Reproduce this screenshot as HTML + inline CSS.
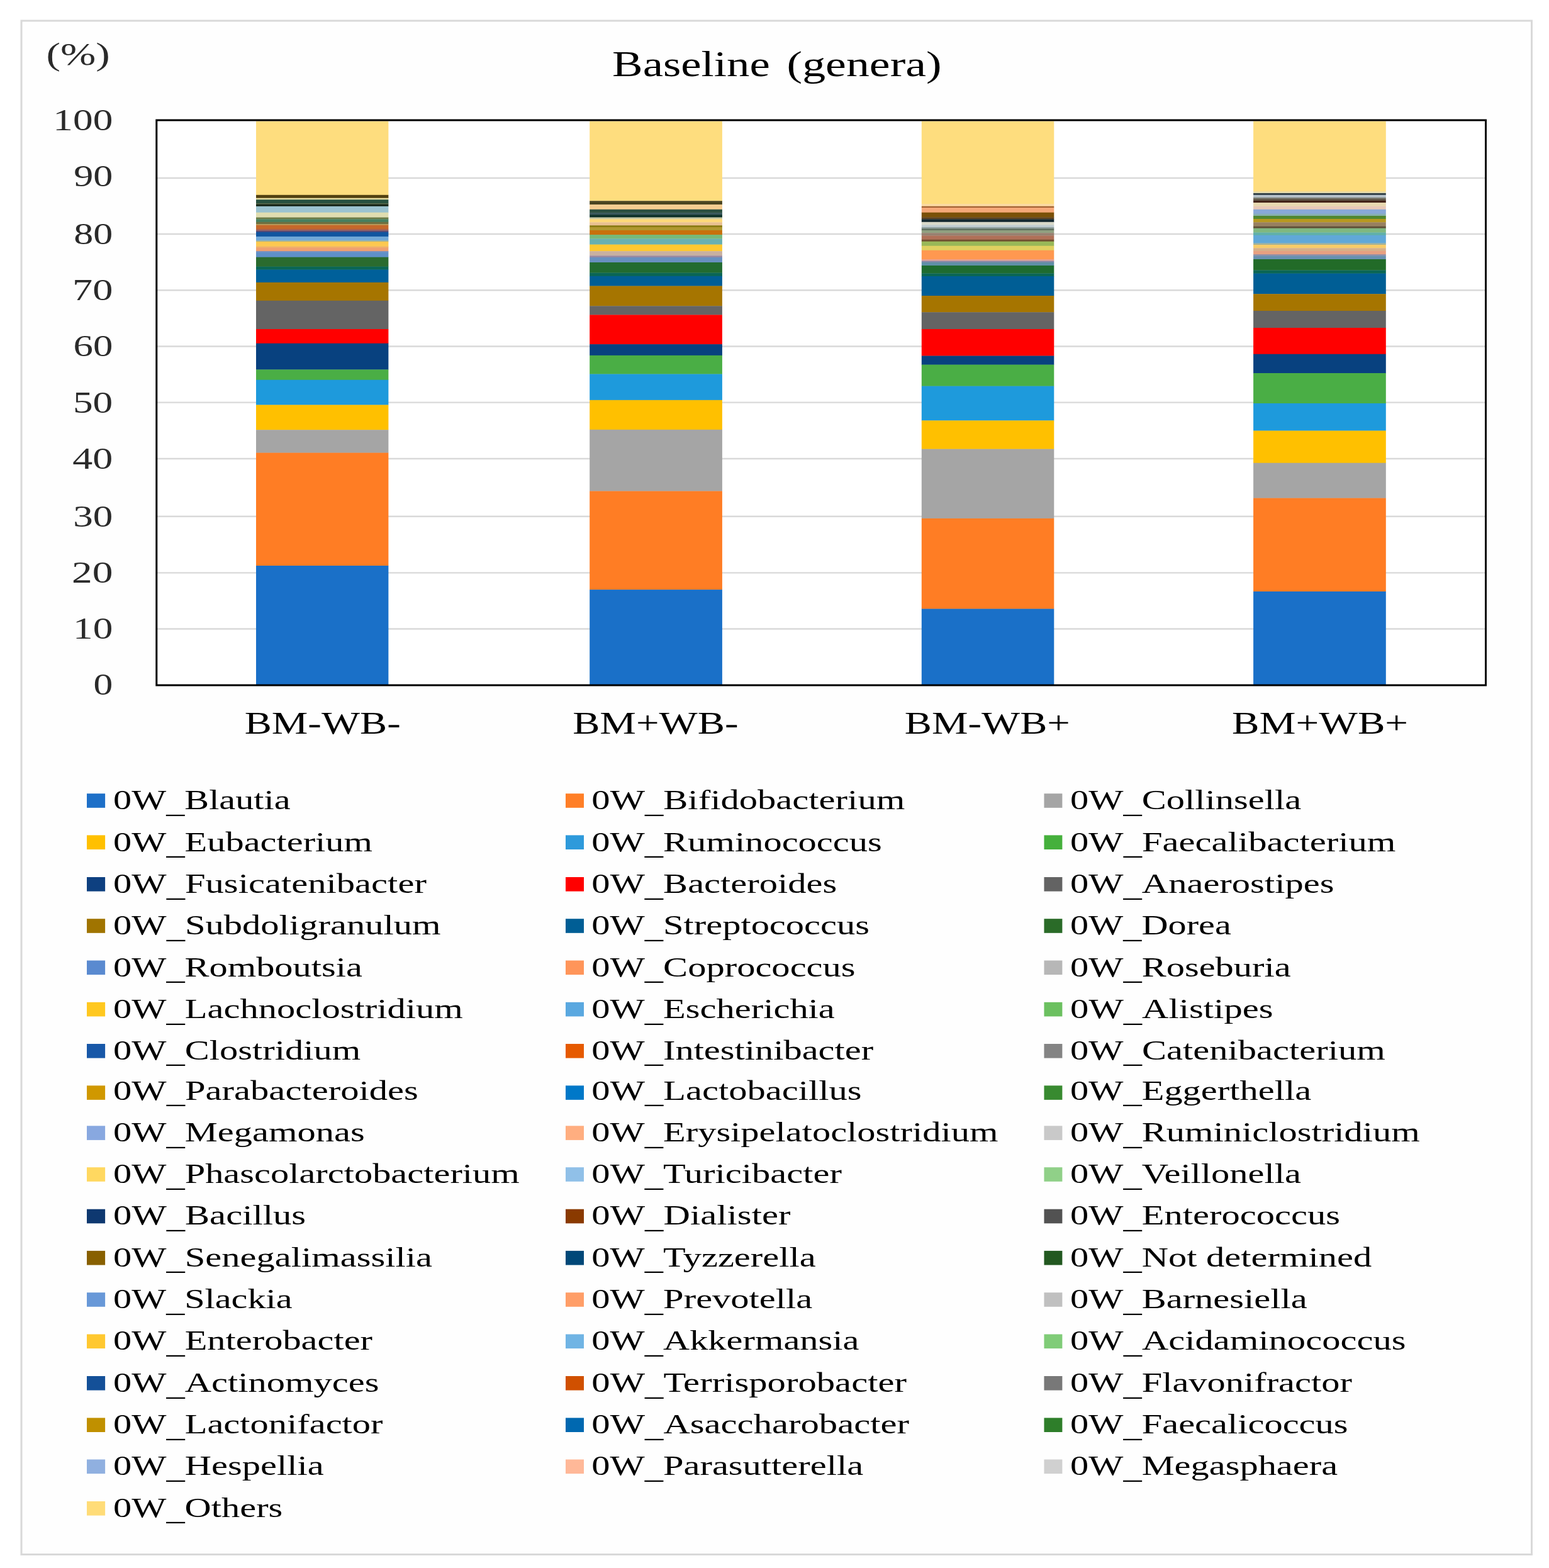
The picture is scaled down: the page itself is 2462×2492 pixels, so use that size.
<!DOCTYPE html>
<html lang="en"><head><meta charset="utf-8"><title>Baseline (genera)</title>
<style>html,body{margin:0;padding:0;background:#fff}body{width:2462px;height:2492px;overflow:hidden}svg{display:block}text{font-family:"Liberation Serif","DejaVu Serif",serif;fill:#000;white-space:pre}.lg text,.md{stroke:none}.tk{fill:#2a2a2a}</style>
</head><body>
<svg width="2462" height="2492" viewBox="0 0 2462 2492">
<rect x="0" y="0" width="2462" height="2492" fill="#ffffff"/>
<defs>
<filter id="softb" x="0" y="0" width="2462" height="2492" filterUnits="userSpaceOnUse" color-interpolation-filters="sRGB"><feGaussianBlur stdDeviation="0.7 0.75"/></filter>
<filter id="softt" x="0" y="0" width="2462" height="2492" filterUnits="userSpaceOnUse" color-interpolation-filters="sRGB"><feGaussianBlur stdDeviation="0.5"/></filter>
</defs>
<rect x="34" y="33" width="2400.5" height="2437.5" fill="#fefefe" stroke="#d9d9d9" stroke-width="3"/>
<rect x="248.8" y="191.0" width="2112.7" height="898.0" fill="#ffffff"/>
<g stroke="#d9d9d9" stroke-width="2.4">
<line x1="248.8" y1="283.0" x2="2361.5" y2="283.0"/>
<line x1="248.8" y1="372.0" x2="2361.5" y2="372.0"/>
<line x1="248.8" y1="461.3" x2="2361.5" y2="461.3"/>
<line x1="248.8" y1="550.5" x2="2361.5" y2="550.5"/>
<line x1="248.8" y1="639.6" x2="2361.5" y2="639.6"/>
<line x1="248.8" y1="729.0" x2="2361.5" y2="729.0"/>
<line x1="248.8" y1="820.8" x2="2361.5" y2="820.8"/>
<line x1="248.8" y1="910.4" x2="2361.5" y2="910.4"/>
<line x1="248.8" y1="999.5" x2="2361.5" y2="999.5"/>
</g>
<g filter="url(#softb)">
<g>
<rect x="407.0" y="192.5" width="210.4" height="117.6" fill="#FEDD7E"/>
<rect x="407.0" y="309.8" width="210.4" height="5.2" fill="#524010"/>
<rect x="407.0" y="314.7" width="210.4" height="2.8" fill="#E8DDA0"/>
<rect x="407.0" y="317.2" width="210.4" height="6.0" fill="#27513F"/>
<rect x="407.0" y="322.9" width="210.4" height="2.0" fill="#56684A"/>
<rect x="407.0" y="324.6" width="210.4" height="3.5" fill="#142414"/>
<rect x="407.0" y="327.8" width="210.4" height="10.2" fill="#9BC3D0"/>
<rect x="407.0" y="337.7" width="210.4" height="8.1" fill="#E0DDB0"/>
<rect x="407.0" y="345.5" width="210.4" height="3.1" fill="#6B7B45"/>
<rect x="407.0" y="348.3" width="210.4" height="4.8" fill="#468060"/>
<rect x="407.0" y="352.8" width="210.4" height="3.5" fill="#6E7040"/>
<rect x="407.0" y="356.0" width="210.4" height="2.2" fill="#B89A5A"/>
<rect x="407.0" y="357.9" width="210.4" height="6.3" fill="#C6682A"/>
<rect x="407.0" y="363.9" width="210.4" height="2.8" fill="#A86050"/>
<rect x="407.0" y="366.4" width="210.4" height="2.7" fill="#5A4870"/>
<rect x="407.0" y="368.8" width="210.4" height="7.4" fill="#1055A0"/>
<rect x="407.0" y="375.9" width="210.4" height="6.7" fill="#70A8D8"/>
<rect x="407.0" y="382.3" width="210.4" height="2.0" fill="#A0B090"/>
<rect x="407.0" y="384.0" width="210.4" height="7.8" fill="#FDC850"/>
<rect x="407.0" y="391.5" width="210.4" height="2.4" fill="#F0B060"/>
<rect x="407.0" y="393.6" width="210.4" height="5.7" fill="#F0A070"/>
<rect x="407.0" y="399.0" width="210.4" height="1.9" fill="#8090B8"/>
<rect x="407.0" y="400.6" width="210.4" height="8.4" fill="#6090C8"/>
<rect x="407.0" y="408.7" width="210.4" height="15.2" fill="#2A6B2E"/>
<rect x="407.0" y="423.6" width="210.4" height="5.3" fill="#0A6654"/>
<rect x="407.0" y="428.6" width="210.4" height="20.5" fill="#00609A"/>
<rect x="407.0" y="448.8" width="210.4" height="29.3" fill="#A67500"/>
<rect x="407.0" y="477.8" width="210.4" height="45.5" fill="#646464"/>
<rect x="407.0" y="523.0" width="210.4" height="23.0" fill="#FF0000"/>
<rect x="407.0" y="545.7" width="210.4" height="42.0" fill="#08417F"/>
<rect x="407.0" y="587.4" width="210.4" height="16.6" fill="#4AAE45"/>
<rect x="407.0" y="603.7" width="210.4" height="40.1" fill="#1E9ADC"/>
<rect x="407.0" y="643.5" width="210.4" height="40.0" fill="#FFC000"/>
<rect x="407.0" y="683.2" width="210.4" height="36.7" fill="#A5A5A5"/>
<rect x="407.0" y="719.6" width="210.4" height="179.7" fill="#FF7D24"/>
<rect x="407.0" y="899.0" width="210.4" height="189.3" fill="#1A70C8"/>
</g>
<g>
<rect x="937.2" y="192.5" width="210.7" height="127.1" fill="#FEDD7E"/>
<rect x="937.2" y="319.3" width="210.7" height="6.0" fill="#4A4420"/>
<rect x="937.2" y="325.0" width="210.7" height="8.1" fill="#F5CC90"/>
<rect x="937.2" y="332.8" width="210.7" height="5.9" fill="#2C5040"/>
<rect x="937.2" y="338.4" width="210.7" height="3.1" fill="#35545A"/>
<rect x="937.2" y="341.2" width="210.7" height="4.6" fill="#0C3028"/>
<rect x="937.2" y="345.5" width="210.7" height="3.1" fill="#C8C8A0"/>
<rect x="937.2" y="348.3" width="210.7" height="5.3" fill="#FDD878"/>
<rect x="937.2" y="353.3" width="210.7" height="5.2" fill="#E8C090"/>
<rect x="937.2" y="358.2" width="210.7" height="3.1" fill="#8A7A10"/>
<rect x="937.2" y="361.0" width="210.7" height="5.3" fill="#B09830"/>
<rect x="937.2" y="366.0" width="210.7" height="7.3" fill="#C8700C"/>
<rect x="937.2" y="373.0" width="210.7" height="6.7" fill="#78B878"/>
<rect x="937.2" y="379.4" width="210.7" height="9.5" fill="#68B0B0"/>
<rect x="937.2" y="388.6" width="210.7" height="10.9" fill="#FDC830"/>
<rect x="937.2" y="399.2" width="210.7" height="7.4" fill="#C8B0A0"/>
<rect x="937.2" y="406.3" width="210.7" height="3.0" fill="#9888A0"/>
<rect x="937.2" y="409.0" width="210.7" height="8.3" fill="#6890C0"/>
<rect x="937.2" y="417.0" width="210.7" height="16.8" fill="#226B30"/>
<rect x="937.2" y="433.5" width="210.7" height="5.6" fill="#0A6654"/>
<rect x="937.2" y="438.8" width="210.7" height="16.0" fill="#005E95"/>
<rect x="937.2" y="454.5" width="210.7" height="32.1" fill="#A67500"/>
<rect x="937.2" y="486.3" width="210.7" height="14.4" fill="#646464"/>
<rect x="937.2" y="500.4" width="210.7" height="47.0" fill="#FF0000"/>
<rect x="937.2" y="547.1" width="210.7" height="18.0" fill="#08417F"/>
<rect x="937.2" y="564.8" width="210.7" height="30.0" fill="#4AAE45"/>
<rect x="937.2" y="594.5" width="210.7" height="41.6" fill="#1E9ADC"/>
<rect x="937.2" y="635.8" width="210.7" height="47.3" fill="#FFC000"/>
<rect x="937.2" y="682.8" width="210.7" height="98.0" fill="#A5A5A5"/>
<rect x="937.2" y="780.5" width="210.7" height="156.9" fill="#FF7D24"/>
<rect x="937.2" y="937.1" width="210.7" height="151.2" fill="#1A70C8"/>
</g>
<g>
<rect x="1464.8" y="192.5" width="210.5" height="132.1" fill="#FEDD7E"/>
<rect x="1464.8" y="324.3" width="210.5" height="3.8" fill="#FAD8A0"/>
<rect x="1464.8" y="327.8" width="210.5" height="2.5" fill="#A06030"/>
<rect x="1464.8" y="330.0" width="210.5" height="8.0" fill="#F5A878"/>
<rect x="1464.8" y="337.7" width="210.5" height="8.1" fill="#7A5008"/>
<rect x="1464.8" y="345.5" width="210.5" height="3.1" fill="#5A4020"/>
<rect x="1464.8" y="348.3" width="210.5" height="4.8" fill="#152830"/>
<rect x="1464.8" y="352.8" width="210.5" height="5.0" fill="#D8D8C8"/>
<rect x="1464.8" y="357.5" width="210.5" height="3.8" fill="#C0CCD0"/>
<rect x="1464.8" y="361.0" width="210.5" height="2.5" fill="#90A0A0"/>
<rect x="1464.8" y="363.2" width="210.5" height="3.1" fill="#607060"/>
<rect x="1464.8" y="366.0" width="210.5" height="4.5" fill="#90A080"/>
<rect x="1464.8" y="370.2" width="210.5" height="4.6" fill="#988070"/>
<rect x="1464.8" y="374.5" width="210.5" height="6.6" fill="#B07058"/>
<rect x="1464.8" y="380.8" width="210.5" height="3.2" fill="#705030"/>
<rect x="1464.8" y="383.7" width="210.5" height="7.3" fill="#98B858"/>
<rect x="1464.8" y="390.7" width="210.5" height="7.4" fill="#E0D060"/>
<rect x="1464.8" y="397.8" width="210.5" height="14.5" fill="#FF9850"/>
<rect x="1464.8" y="412.0" width="210.5" height="2.8" fill="#E8A090"/>
<rect x="1464.8" y="414.5" width="210.5" height="2.7" fill="#8888A8"/>
<rect x="1464.8" y="416.9" width="210.5" height="5.4" fill="#6090A8"/>
<rect x="1464.8" y="422.0" width="210.5" height="12.7" fill="#1E6B30"/>
<rect x="1464.8" y="434.4" width="210.5" height="4.9" fill="#0A6654"/>
<rect x="1464.8" y="439.0" width="210.5" height="31.3" fill="#005E95"/>
<rect x="1464.8" y="470.0" width="210.5" height="26.5" fill="#A67500"/>
<rect x="1464.8" y="496.2" width="210.5" height="27.1" fill="#646464"/>
<rect x="1464.8" y="523.0" width="210.5" height="42.8" fill="#FF0000"/>
<rect x="1464.8" y="565.5" width="210.5" height="14.4" fill="#08417F"/>
<rect x="1464.8" y="579.6" width="210.5" height="34.3" fill="#4AAE45"/>
<rect x="1464.8" y="613.6" width="210.5" height="55.0" fill="#1E9ADC"/>
<rect x="1464.8" y="668.3" width="210.5" height="45.6" fill="#FFC000"/>
<rect x="1464.8" y="713.6" width="210.5" height="110.6" fill="#A5A5A5"/>
<rect x="1464.8" y="823.9" width="210.5" height="144.0" fill="#FF7D24"/>
<rect x="1464.8" y="967.6" width="210.5" height="120.7" fill="#1A70C8"/>
</g>
<g>
<rect x="1992.1" y="192.5" width="210.7" height="112.3" fill="#FEDD7E"/>
<rect x="1992.1" y="304.5" width="210.7" height="2.8" fill="#E0D8A8"/>
<rect x="1992.1" y="307.0" width="210.7" height="3.1" fill="#2C3C44"/>
<rect x="1992.1" y="309.8" width="210.7" height="4.2" fill="#B8C4CC"/>
<rect x="1992.1" y="313.7" width="210.7" height="2.1" fill="#808880"/>
<rect x="1992.1" y="315.5" width="210.7" height="3.4" fill="#605848"/>
<rect x="1992.1" y="318.6" width="210.7" height="3.8" fill="#422218"/>
<rect x="1992.1" y="322.1" width="210.7" height="6.0" fill="#E8D8B0"/>
<rect x="1992.1" y="327.8" width="210.7" height="5.3" fill="#E8C8B8"/>
<rect x="1992.1" y="332.8" width="210.7" height="7.3" fill="#88A8D8"/>
<rect x="1992.1" y="339.8" width="210.7" height="3.5" fill="#88B0B0"/>
<rect x="1992.1" y="343.0" width="210.7" height="5.2" fill="#508830"/>
<rect x="1992.1" y="347.9" width="210.7" height="5.7" fill="#B89820"/>
<rect x="1992.1" y="353.3" width="210.7" height="6.6" fill="#988060"/>
<rect x="1992.1" y="359.6" width="210.7" height="3.4" fill="#605038"/>
<rect x="1992.1" y="362.7" width="210.7" height="7.1" fill="#80B880"/>
<rect x="1992.1" y="369.5" width="210.7" height="4.6" fill="#60B0A8"/>
<rect x="1992.1" y="373.8" width="210.7" height="13.0" fill="#60A8D8"/>
<rect x="1992.1" y="386.5" width="210.7" height="2.8" fill="#A0B098"/>
<rect x="1992.1" y="389.0" width="210.7" height="5.6" fill="#F8CC68"/>
<rect x="1992.1" y="394.3" width="210.7" height="5.0" fill="#D8B088"/>
<rect x="1992.1" y="399.0" width="210.7" height="5.5" fill="#E8A080"/>
<rect x="1992.1" y="404.2" width="210.7" height="2.4" fill="#9088A0"/>
<rect x="1992.1" y="406.3" width="210.7" height="6.0" fill="#6890B0"/>
<rect x="1992.1" y="412.0" width="210.7" height="17.7" fill="#226B28"/>
<rect x="1992.1" y="429.4" width="210.7" height="5.5" fill="#0A6654"/>
<rect x="1992.1" y="434.6" width="210.7" height="32.9" fill="#005E95"/>
<rect x="1992.1" y="467.2" width="210.7" height="27.1" fill="#A67500"/>
<rect x="1992.1" y="494.0" width="210.7" height="27.3" fill="#646464"/>
<rect x="1992.1" y="521.0" width="210.7" height="42.0" fill="#FF0000"/>
<rect x="1992.1" y="562.7" width="210.7" height="30.6" fill="#08417F"/>
<rect x="1992.1" y="593.0" width="210.7" height="48.3" fill="#4AAE45"/>
<rect x="1992.1" y="641.0" width="210.7" height="43.8" fill="#1E9ADC"/>
<rect x="1992.1" y="684.5" width="210.7" height="51.5" fill="#FFC000"/>
<rect x="1992.1" y="735.7" width="210.7" height="56.2" fill="#A5A5A5"/>
<rect x="1992.1" y="791.6" width="210.7" height="148.7" fill="#FF7D24"/>
<rect x="1992.1" y="940.0" width="210.7" height="148.3" fill="#1A70C8"/>
</g>
<rect x="138.0" y="1261.20" width="29.1" height="22.6" fill="#1E70C8"/>
<rect x="138.0" y="1327.40" width="29.1" height="22.6" fill="#FFC000"/>
<rect x="138.0" y="1394.00" width="29.1" height="22.6" fill="#0E4080"/>
<rect x="138.0" y="1460.20" width="29.1" height="22.6" fill="#A07400"/>
<rect x="138.0" y="1526.50" width="29.1" height="22.6" fill="#5A8AD0"/>
<rect x="138.0" y="1592.80" width="29.1" height="22.6" fill="#FFC820"/>
<rect x="138.0" y="1659.00" width="29.1" height="22.6" fill="#1858A8"/>
<rect x="138.0" y="1725.30" width="29.1" height="22.6" fill="#D09800"/>
<rect x="138.0" y="1789.30" width="29.1" height="22.6" fill="#88A8E0"/>
<rect x="138.0" y="1855.20" width="29.1" height="22.6" fill="#FFD860"/>
<rect x="138.0" y="1921.70" width="29.1" height="22.6" fill="#0E3870"/>
<rect x="138.0" y="1987.90" width="29.1" height="22.6" fill="#886000"/>
<rect x="138.0" y="2054.20" width="29.1" height="22.6" fill="#6898D8"/>
<rect x="138.0" y="2120.50" width="29.1" height="22.6" fill="#FFC830"/>
<rect x="138.0" y="2187.00" width="29.1" height="22.6" fill="#145098"/>
<rect x="138.0" y="2253.40" width="29.1" height="22.6" fill="#C09000"/>
<rect x="138.0" y="2319.50" width="29.1" height="22.6" fill="#90B0E0"/>
<rect x="138.0" y="2386.00" width="29.1" height="22.6" fill="#FFDC78"/>
<rect x="899.0" y="1261.20" width="29.0" height="22.6" fill="#FF7F27"/>
<rect x="899.0" y="1327.40" width="29.0" height="22.6" fill="#2E9ADB"/>
<rect x="899.0" y="1394.00" width="29.0" height="22.6" fill="#FF0000"/>
<rect x="899.0" y="1460.20" width="29.0" height="22.6" fill="#005E95"/>
<rect x="899.0" y="1526.50" width="29.0" height="22.6" fill="#FF955A"/>
<rect x="899.0" y="1592.80" width="29.0" height="22.6" fill="#5AA8E0"/>
<rect x="899.0" y="1659.00" width="29.0" height="22.6" fill="#E65A00"/>
<rect x="899.0" y="1725.30" width="29.0" height="22.6" fill="#0078C8"/>
<rect x="899.0" y="1789.30" width="29.0" height="22.6" fill="#FFAE80"/>
<rect x="899.0" y="1855.20" width="29.0" height="22.6" fill="#90C0E8"/>
<rect x="899.0" y="1921.70" width="29.0" height="22.6" fill="#8A3A00"/>
<rect x="899.0" y="1987.90" width="29.0" height="22.6" fill="#004878"/>
<rect x="899.0" y="2054.20" width="29.0" height="22.6" fill="#FF9E68"/>
<rect x="899.0" y="2120.50" width="29.0" height="22.6" fill="#70B4E4"/>
<rect x="899.0" y="2187.00" width="29.0" height="22.6" fill="#D05000"/>
<rect x="899.0" y="2253.40" width="29.0" height="22.6" fill="#0068B0"/>
<rect x="899.0" y="2319.50" width="29.0" height="22.6" fill="#FFB898"/>
<rect x="1659.5" y="1261.20" width="28.9" height="22.6" fill="#A5A5A5"/>
<rect x="1659.5" y="1327.40" width="28.9" height="22.6" fill="#45B03C"/>
<rect x="1659.5" y="1394.00" width="28.9" height="22.6" fill="#636363"/>
<rect x="1659.5" y="1460.20" width="28.9" height="22.6" fill="#2A6B28"/>
<rect x="1659.5" y="1526.50" width="28.9" height="22.6" fill="#B7B7B7"/>
<rect x="1659.5" y="1592.80" width="28.9" height="22.6" fill="#6CC060"/>
<rect x="1659.5" y="1659.00" width="28.9" height="22.6" fill="#848484"/>
<rect x="1659.5" y="1725.30" width="28.9" height="22.6" fill="#388A30"/>
<rect x="1659.5" y="1789.30" width="28.9" height="22.6" fill="#C9C9C9"/>
<rect x="1659.5" y="1855.20" width="28.9" height="22.6" fill="#90D088"/>
<rect x="1659.5" y="1921.70" width="28.9" height="22.6" fill="#525252"/>
<rect x="1659.5" y="1987.90" width="28.9" height="22.6" fill="#225820"/>
<rect x="1659.5" y="2054.20" width="28.9" height="22.6" fill="#C0C0C0"/>
<rect x="1659.5" y="2120.50" width="28.9" height="22.6" fill="#80CC78"/>
<rect x="1659.5" y="2187.00" width="28.9" height="22.6" fill="#787878"/>
<rect x="1659.5" y="2253.40" width="28.9" height="22.6" fill="#2E7E2A"/>
<rect x="1659.5" y="2319.50" width="28.9" height="22.6" fill="#D0D0D0"/>
</g>
<rect x="248.8" y="191.0" width="2112.7" height="898.0" fill="none" stroke="#000" stroke-width="3"/>
<g filter="url(#softt)">
<text transform="translate(84.33 207.10) scale(1.2922 1)" font-size="49" class="tk">100</text>
<text transform="translate(117.20 295.90) scale(1.2666 1)" font-size="49" class="tk">90</text>
<text transform="translate(117.24 387.90) scale(1.2658 1)" font-size="49" class="tk">80</text>
<text transform="translate(114.96 477.10) scale(1.3142 1)" font-size="49" class="tk">70</text>
<text transform="translate(116.50 566.10) scale(1.2814 1)" font-size="49" class="tk">60</text>
<text transform="translate(115.92 655.90) scale(1.2938 1)" font-size="49" class="tk">50</text>
<text transform="translate(115.25 745.00) scale(1.3080 1)" font-size="49" class="tk">40</text>
<text transform="translate(116.18 836.90) scale(1.2883 1)" font-size="49" class="tk">30</text>
<text transform="translate(113.92 926.10) scale(1.3361 1)" font-size="49" class="tk">20</text>
<text transform="translate(116.04 1015.00) scale(1.2912 1)" font-size="49" class="tk">10</text>
<text transform="translate(148.45 1104.20) scale(1.2568 1)" font-size="49" class="tk">0</text>
<text transform="translate(73.53 102.50) scale(1.3521 1)" font-size="50" class="tk">(%)</text>
<text transform="translate(973.10 120.50) scale(1.2549 1)" font-size="58" class="md">Baseline</text>
<text transform="translate(1250.55 120.50) scale(1.2745 1)" font-size="58" class="md">(genera)</text>
<text transform="translate(388.64 1166.20) scale(1.2946 1)" font-size="50" class="md">BM-WB-</text>
<text transform="translate(910.13 1166.20) scale(1.2963 1)" font-size="50" class="md">BM+WB-</text>
<text transform="translate(1437.73 1166.20) scale(1.2954 1)" font-size="50" class="md">BM-WB+</text>
<text transform="translate(1958.12 1166.20) scale(1.3042 1)" font-size="50" class="md">BM+WB+</text>
<g class="lg">
<text transform="translate(180.08 1286.20) scale(1.2945 1)" font-size="45">0W<tspan dy="4.7">_</tspan><tspan dy="-4.7">Blautia</tspan></text>
<text transform="translate(180.08 1352.50) scale(1.2979 1)" font-size="45">0W<tspan dy="4.7">_</tspan><tspan dy="-4.7">Eubacterium</tspan></text>
<text transform="translate(180.07 1419.10) scale(1.3024 1)" font-size="45">0W<tspan dy="4.7">_</tspan><tspan dy="-4.7">Fusicatenibacter</tspan></text>
<text transform="translate(180.07 1485.40) scale(1.3014 1)" font-size="45">0W<tspan dy="4.7">_</tspan><tspan dy="-4.7">Subdoligranulum</tspan></text>
<text transform="translate(180.08 1551.60) scale(1.2978 1)" font-size="45">0W<tspan dy="4.7">_</tspan><tspan dy="-4.7">Romboutsia</tspan></text>
<text transform="translate(180.07 1617.90) scale(1.3003 1)" font-size="45">0W<tspan dy="4.7">_</tspan><tspan dy="-4.7">Lachnoclostridium</tspan></text>
<text transform="translate(180.07 1683.50) scale(1.2998 1)" font-size="45">0W<tspan dy="4.7">_</tspan><tspan dy="-4.7">Clostridium</tspan></text>
<text transform="translate(180.07 1747.60) scale(1.3023 1)" font-size="45">0W<tspan dy="4.7">_</tspan><tspan dy="-4.7">Parabacteroides</tspan></text>
<text transform="translate(180.07 1813.90) scale(1.3003 1)" font-size="45">0W<tspan dy="4.7">_</tspan><tspan dy="-4.7">Megamonas</tspan></text>
<text transform="translate(180.07 1880.10) scale(1.2985 1)" font-size="45">0W<tspan dy="4.7">_</tspan><tspan dy="-4.7">Phascolarctobacterium</tspan></text>
<text transform="translate(180.07 1946.40) scale(1.3028 1)" font-size="45">0W<tspan dy="4.7">_</tspan><tspan dy="-4.7">Bacillus</tspan></text>
<text transform="translate(180.07 2012.70) scale(1.3008 1)" font-size="45">0W<tspan dy="4.7">_</tspan><tspan dy="-4.7">Senegalimassilia</tspan></text>
<text transform="translate(180.08 2079.00) scale(1.2939 1)" font-size="45">0W<tspan dy="4.7">_</tspan><tspan dy="-4.7">Slackia</tspan></text>
<text transform="translate(180.07 2145.30) scale(1.2986 1)" font-size="45">0W<tspan dy="4.7">_</tspan><tspan dy="-4.7">Enterobacter</tspan></text>
<text transform="translate(180.07 2211.80) scale(1.3007 1)" font-size="45">0W<tspan dy="4.7">_</tspan><tspan dy="-4.7">Actinomyces</tspan></text>
<text transform="translate(180.07 2278.00) scale(1.2995 1)" font-size="45">0W<tspan dy="4.7">_</tspan><tspan dy="-4.7">Lactonifactor</tspan></text>
<text transform="translate(180.07 2344.30) scale(1.3004 1)" font-size="45">0W<tspan dy="4.7">_</tspan><tspan dy="-4.7">Hespellia</tspan></text>
<text transform="translate(180.07 2410.50) scale(1.2984 1)" font-size="45">0W<tspan dy="4.7">_</tspan><tspan dy="-4.7">Others</tspan></text>
<text transform="translate(940.37 1286.20) scale(1.3024 1)" font-size="45">0W<tspan dy="4.7">_</tspan><tspan dy="-4.7">Bifidobacterium</tspan></text>
<text transform="translate(940.37 1352.50) scale(1.3002 1)" font-size="45">0W<tspan dy="4.7">_</tspan><tspan dy="-4.7">Ruminococcus</tspan></text>
<text transform="translate(940.37 1419.10) scale(1.3008 1)" font-size="45">0W<tspan dy="4.7">_</tspan><tspan dy="-4.7">Bacteroides</tspan></text>
<text transform="translate(940.37 1485.40) scale(1.2994 1)" font-size="45">0W<tspan dy="4.7">_</tspan><tspan dy="-4.7">Streptococcus</tspan></text>
<text transform="translate(940.37 1551.60) scale(1.3008 1)" font-size="45">0W<tspan dy="4.7">_</tspan><tspan dy="-4.7">Coprococcus</tspan></text>
<text transform="translate(940.37 1617.90) scale(1.2999 1)" font-size="45">0W<tspan dy="4.7">_</tspan><tspan dy="-4.7">Escherichia</tspan></text>
<text transform="translate(940.37 1683.50) scale(1.2986 1)" font-size="45">0W<tspan dy="4.7">_</tspan><tspan dy="-4.7">Intestinibacter</tspan></text>
<text transform="translate(940.37 1747.60) scale(1.3014 1)" font-size="45">0W<tspan dy="4.7">_</tspan><tspan dy="-4.7">Lactobacillus</tspan></text>
<text transform="translate(940.37 1813.90) scale(1.2990 1)" font-size="45">0W<tspan dy="4.7">_</tspan><tspan dy="-4.7">Erysipelatoclostridium</tspan></text>
<text transform="translate(940.37 1880.10) scale(1.3008 1)" font-size="45">0W<tspan dy="4.7">_</tspan><tspan dy="-4.7">Turicibacter</tspan></text>
<text transform="translate(940.36 1946.40) scale(1.3048 1)" font-size="45">0W<tspan dy="4.7">_</tspan><tspan dy="-4.7">Dialister</tspan></text>
<text transform="translate(940.37 2012.70) scale(1.3000 1)" font-size="45">0W<tspan dy="4.7">_</tspan><tspan dy="-4.7">Tyzzerella</tspan></text>
<text transform="translate(940.37 2079.00) scale(1.3006 1)" font-size="45">0W<tspan dy="4.7">_</tspan><tspan dy="-4.7">Prevotella</tspan></text>
<text transform="translate(940.37 2145.30) scale(1.2985 1)" font-size="45">0W<tspan dy="4.7">_</tspan><tspan dy="-4.7">Akkermansia</tspan></text>
<text transform="translate(940.37 2211.80) scale(1.3033 1)" font-size="45">0W<tspan dy="4.7">_</tspan><tspan dy="-4.7">Terrisporobacter</tspan></text>
<text transform="translate(940.37 2278.00) scale(1.3034 1)" font-size="45">0W<tspan dy="4.7">_</tspan><tspan dy="-4.7">Asaccharobacter</tspan></text>
<text transform="translate(940.37 2344.30) scale(1.2995 1)" font-size="45">0W<tspan dy="4.7">_</tspan><tspan dy="-4.7">Parasutterella</tspan></text>
<text transform="translate(1701.07 1286.20) scale(1.3002 1)" font-size="45">0W<tspan dy="4.7">_</tspan><tspan dy="-4.7">Collinsella</tspan></text>
<text transform="translate(1701.07 1352.50) scale(1.3023 1)" font-size="45">0W<tspan dy="4.7">_</tspan><tspan dy="-4.7">Faecalibacterium</tspan></text>
<text transform="translate(1701.07 1419.10) scale(1.3010 1)" font-size="45">0W<tspan dy="4.7">_</tspan><tspan dy="-4.7">Anaerostipes</tspan></text>
<text transform="translate(1701.08 1485.40) scale(1.2959 1)" font-size="45">0W<tspan dy="4.7">_</tspan><tspan dy="-4.7">Dorea</tspan></text>
<text transform="translate(1701.07 1551.60) scale(1.2993 1)" font-size="45">0W<tspan dy="4.7">_</tspan><tspan dy="-4.7">Roseburia</tspan></text>
<text transform="translate(1701.07 1617.90) scale(1.3033 1)" font-size="45">0W<tspan dy="4.7">_</tspan><tspan dy="-4.7">Alistipes</tspan></text>
<text transform="translate(1701.07 1683.50) scale(1.3016 1)" font-size="45">0W<tspan dy="4.7">_</tspan><tspan dy="-4.7">Catenibacterium</tspan></text>
<text transform="translate(1701.07 1747.60) scale(1.2991 1)" font-size="45">0W<tspan dy="4.7">_</tspan><tspan dy="-4.7">Eggerthella</tspan></text>
<text transform="translate(1701.07 1813.90) scale(1.3004 1)" font-size="45">0W<tspan dy="4.7">_</tspan><tspan dy="-4.7">Ruminiclostridium</tspan></text>
<text transform="translate(1701.07 1880.10) scale(1.2993 1)" font-size="45">0W<tspan dy="4.7">_</tspan><tspan dy="-4.7">Veillonella</tspan></text>
<text transform="translate(1701.07 1946.40) scale(1.3004 1)" font-size="45">0W<tspan dy="4.7">_</tspan><tspan dy="-4.7">Enterococcus</tspan></text>
<text transform="translate(1701.07 2012.70) scale(1.2999 1)" font-size="45">0W<tspan dy="4.7">_</tspan><tspan dy="-4.7">Not determined</tspan></text>
<text transform="translate(1701.07 2079.00) scale(1.2994 1)" font-size="45">0W<tspan dy="4.7">_</tspan><tspan dy="-4.7">Barnesiella</tspan></text>
<text transform="translate(1701.07 2145.30) scale(1.3018 1)" font-size="45">0W<tspan dy="4.7">_</tspan><tspan dy="-4.7">Acidaminococcus</tspan></text>
<text transform="translate(1701.07 2211.80) scale(1.2988 1)" font-size="45">0W<tspan dy="4.7">_</tspan><tspan dy="-4.7">Flavonifractor</tspan></text>
<text transform="translate(1701.07 2278.00) scale(1.2996 1)" font-size="45">0W<tspan dy="4.7">_</tspan><tspan dy="-4.7">Faecalicoccus</tspan></text>
<text transform="translate(1701.07 2344.30) scale(1.2987 1)" font-size="45">0W<tspan dy="4.7">_</tspan><tspan dy="-4.7">Megasphaera</tspan></text>
</g>
</g>
</svg>
</body></html>
